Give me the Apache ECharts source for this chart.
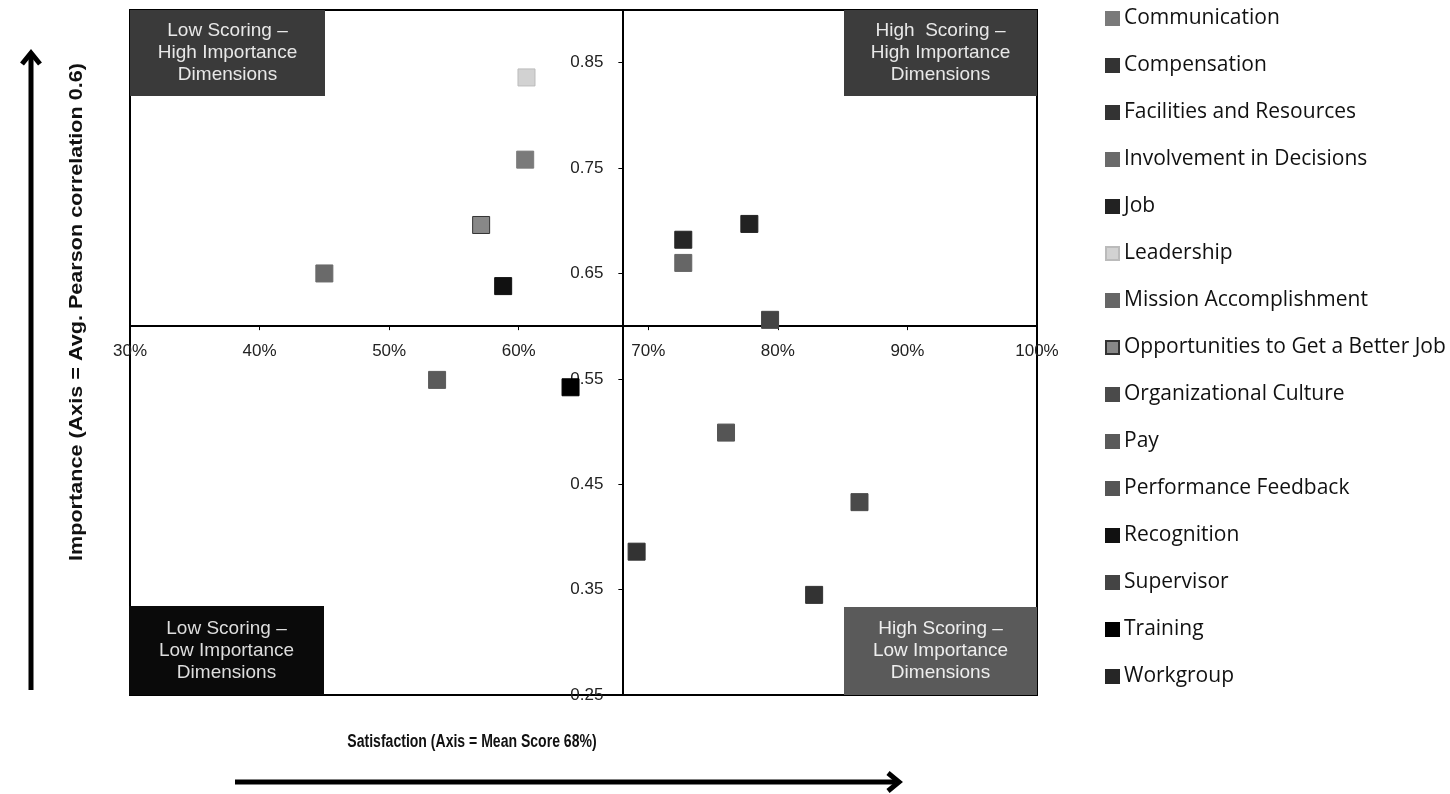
<!DOCTYPE html>
<html><head><meta charset="utf-8">
<script src="https://cdn.jsdelivr.net/npm/echarts@6/dist/echarts.min.js"></script>
<style>html,body{margin:0;padding:0;background:#fff}#c{width:1450px;height:794px}</style>
</head><body><div id="c"></div>
<script>
// ---- data ----
const dimensions = ['Communication','Compensation','Facilities and Resources','Involvement in Decisions','Job','Leadership','Mission Accomplishment','Opportunities to Get a Better Job','Organizational Culture','Pay','Performance Feedback','Recognition','Supervisor','Training','Workgroup'];
const satisfaction = [60.5, 69.1, 82.8, 45.0, 77.8, 60.6, 72.7, 57.1, 86.3, 53.7, 76.0, 58.8, 79.4, 64.0, 72.7];
const importance  = [0.758, 0.386, 0.345, 0.650, 0.697, 0.836, 0.660, 0.696, 0.433, 0.549, 0.499, 0.638, 0.606, 0.542, 0.682];
const xTickLabels = ['30%','40%','50%','60%','70%','80%','90%','100%'];
const yTickLabels = ['0.25','0.35','0.45','0.55','0.65','0.75','0.85'];
const quadrantLabels = ['Low Scoring –\nHigh Importance\nDimensions','High  Scoring –\nHigh Importance\nDimensions','Low Scoring –\nLow Importance\nDimensions','High Scoring –\nLow Importance\nDimensions'];
const xTitle = 'Satisfaction (Axis = Mean Score 68%)';
const yTitle = 'Importance (Axis = Avg. Pearson correlation 0.6)';
const xCross = 68, yCross = 0.6;

// ---- style ----
const colors = ['#7a7a7a','#333333','#333333','#6a6a6a','#222222','#d2d2d2','#666666','#888888','#4a4a4a','#5a5a5a','#555555','#111111','#444444','#000000','#262626'];
const borders = ['#7a7a7a','#333333','#333333','#6a6a6a','#222222','#bbbbbb','#666666','#333333','#4a4a4a','#5a5a5a','#555555','#111111','#444444','#000000','#262626'];
const xMin = 30, xMax = 100, xStep = 10, yMin = 0.25, yMax = 0.9, yStep = 0.1;
const G = {left:130, right:413, top:10, bottom:99};
const W = 1450, H = 794;
const gw = W - G.left - G.right, gh = H - G.top - G.bottom;

const chart = echarts.init(document.getElementById('c'), null, {renderer:'canvas'});

const series = dimensions.map((n, i) => ({
  name: n, type: 'scatter', symbol: 'rect', symbolSize: 17,
  itemStyle: {color: colors[i], borderColor: borders[i], borderWidth: 1, opacity: 1},
  data: [[satisfaction[i], importance[i]]],
  z: 5
}));

const boxFont = '19px "Liberation Sans", Arial, sans-serif';
function box(x, y, w, h, fill, txt, tc) {
  return [
    {type:'rect', shape:{x:x, y:y, width:w, height:h}, style:{fill:fill}, z:10},
    {type:'text', x: x + w/2, y: y + h/2, z:11,
     style:{text: txt, fill: tc, font: boxFont, align:'center', verticalAlign:'middle', lineHeight:22}}
  ];
}

const graphic = [].concat(
  box(130, 10, 195, 86, '#3a3a3a', quadrantLabels[0], '#e8e8e8'),
  box(844, 10, 193, 86, '#3c3c3c', quadrantLabels[1], '#e8e8e8'),
  box(129, 606, 195, 89, '#0a0a0a', quadrantLabels[2], '#dddddd'),
  box(844, 607, 193, 88, '#5a5a5a', quadrantLabels[3], '#eeeeee'),
  [
    {type:'line', shape:{x1:31, y1:690, x2:31, y2:56}, style:{stroke:'#000', lineWidth:5}},
    {type:'polyline', shape:{points:[[22,64],[31,53],[40,64]]}, style:{stroke:'#000', lineWidth:5, fill:null, lineJoin:'miter'}},
    {type:'line', shape:{x1:235, y1:782, x2:895, y2:782}, style:{stroke:'#000', lineWidth:5}},
    {type:'polyline', shape:{points:[[888,773],[899,782],[888,791]]}, style:{stroke:'#000', lineWidth:5, fill:null, lineJoin:'miter'}},
    {type:'text', x:472, y:742, scaleX:0.78,
     style:{text:xTitle, font:'bold 18px "Liberation Sans", Arial, sans-serif', fill:'#111', align:'center', verticalAlign:'middle'}},
    {type:'text', x:77, y:312, rotation:Math.PI/2, scaleX:1.2,
     style:{text:yTitle, font:'bold 18px "Liberation Sans", Arial, sans-serif', fill:'#111', align:'center', verticalAlign:'middle'}}
  ]
);

const option = {
  backgroundColor:'#fff',
  animation:false,
  grid:{left:G.left, right:G.right, top:G.top, bottom:G.bottom, show:true, borderColor:'#000', borderWidth:2, backgroundColor:'transparent'},
  xAxis:{type:'value', min:xMin, max:xMax, interval:xStep,
    offset: -(yCross - yMin)/(yMax - yMin)*gh,
    axisLine:{show:true, onZero:false, lineStyle:{color:'#000', width:2}},
    axisTick:{show:true, length:4, lineStyle:{color:'#000'}},
    splitLine:{show:false},
    axisLabel:{margin:17, color:'#222', fontSize:17, fontFamily:'"Liberation Sans", Arial, sans-serif',
      formatter: v => { const s = Math.round(v) + '%'; return xTickLabels.includes(s) ? s : ''; }}
  },
  yAxis:{type:'value', min:yMin, max:yMax, interval:yStep,
    offset: -(xCross - xMin)/(xMax - xMin)*gw,
    axisLine:{show:true, onZero:false, lineStyle:{color:'#000', width:2}},
    axisTick:{show:true, length:4, lineStyle:{color:'#000'}},
    splitLine:{show:false},
    axisLabel:{margin:19, color:'#222', fontSize:17, fontFamily:'"Liberation Sans", Arial, sans-serif',
      formatter: v => { const s = v.toFixed(2); return yTickLabels.includes(s) ? s : ''; }}
  },
  legend:{orient:'vertical', left:1100, top:3, icon:'rect', itemWidth:13, itemHeight:13, itemGap:26,
    data: dimensions,
    textStyle:{fontSize:21, lineHeight:20, color:'#111', fontFamily:'"Open Sans", Lato, sans-serif'}
  },
  graphic: graphic,
  series: series
};
chart.setOption(option);
</script>
</body></html>
